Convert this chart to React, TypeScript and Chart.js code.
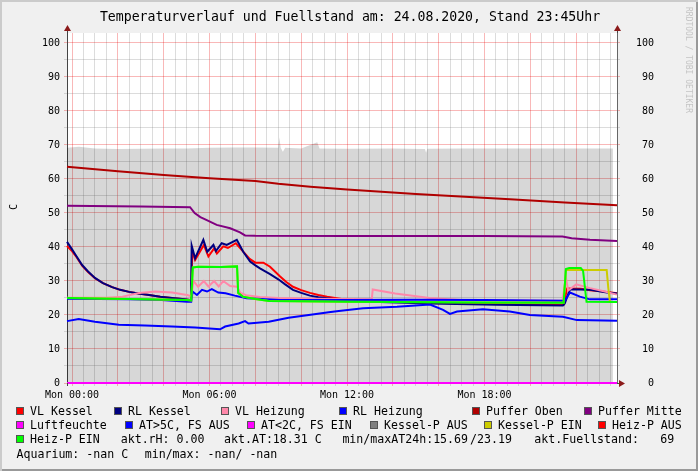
import React, { useEffect, useRef } from "react";
import { Chart, registerables } from "chart.js";

Chart.register(...registerables);

type P = [number, number];

const TITLE = "Temperaturverlauf und Fuellstand am: 24.08.2020, Stand 23:45Uhr";
const Y_TITLE = "C";
const WATERMARK = "RRDTOOL / TOBI OETIKER";

const X_MIN = -0.22;
const X_MAX = 23.78;
const Y_MIN = 0;
const Y_MAX = 102.94;

const xGridHours: number[] = Array.from({ length: 48 }, (_, i) => i * 0.5);
const xLabelHours = [0, 6, 12, 18];
const xTickLabels = ["Mon 00:00", "Mon 06:00", "Mon 12:00", "Mon 18:00"];
const yGridValues: number[] = Array.from({ length: 21 }, (_, i) => i * 5);
const yTickLabels = ["0", "10", "20", "30", "40", "50", "60", "70", "80", "90", "100"];

// [hour, value]
const fuellstand: P[] = [
  [-0.22, 69.2], [0.3, 69.5], [1.0, 69.0], [2.0, 68.8], [3.0, 68.9], [4.0, 69.0], [5.0, 69.0],
  [6.0, 69.2], [7.0, 69.3], [8.0, 69.3], [9.0, 69.2], [9.05, 72.3], [9.1, 69.3], [9.2, 68.0],
  [9.3, 69.2], [10.0, 69.0], [10.7, 70.8], [10.8, 69.0], [12.0, 68.9], [14.0, 69.0],
  [15.4, 68.8], [15.45, 67.7], [15.5, 68.9], [17.0, 69.0], [20.0, 69.0], [23.6, 69.0],
];

const vlKessel: P[] = [
  [-0.22, 40.3], [0.0, 38.8], [0.2, 37.0], [0.44, 34.5], [0.7, 32.6], [1.0, 30.8], [1.35, 29.4],
  [1.75, 28.2], [2.1, 27.4], [2.49, 26.8], [2.9, 26.3], [3.36, 25.9], [3.85, 25.4], [4.36, 25.0],
  [4.8, 24.7], [5.15, 24.4], [5.19, 24.3], [5.25, 39.0], [5.37, 36.2], [5.75, 40.6], [5.95, 37.2],
  [6.2, 39.6], [6.32, 38.1], [6.6, 40.2], [6.8, 39.7], [7.15, 41.1], [7.45, 38.8], [7.75, 36.5],
  [8.0, 35.4], [8.35, 35.4], [8.64, 34.2], [9.08, 31.3], [9.35, 29.7], [9.64, 28.3], [10.0, 27.3],
  [10.38, 26.5], [10.75, 25.9], [11.13, 25.4], [11.82, 24.6], [12.7, 24.2], [15.6, 23.6],
  [18.5, 23.2], [21.45, 23.0], [21.6, 27.8], [22.2, 27.7], [22.6, 27.3], [23.34, 26.8],
  [23.78, 26.4],
];

const rlKessel: P[] = [
  [-0.22, 41.5], [0.0, 39.3], [0.2, 37.2], [0.44, 34.7], [0.7, 32.8], [1.0, 30.9], [1.35, 29.4],
  [1.75, 28.2], [2.1, 27.4], [2.49, 26.8], [2.9, 26.3], [3.36, 25.9], [3.85, 25.4], [4.36, 25.0],
  [4.8, 24.7], [5.15, 24.4], [5.19, 24.3], [5.22, 40.4], [5.37, 36.7], [5.73, 42.1], [5.9, 38.6],
  [6.17, 40.6], [6.28, 38.8], [6.53, 41.1], [6.75, 40.6], [7.19, 42.1], [7.47, 38.6], [7.77, 35.7],
  [8.0, 34.6], [8.2, 33.7], [8.64, 32.0], [9.0, 30.5], [9.3, 29.0], [9.64, 27.4], [10.0, 26.5],
  [10.38, 25.7], [10.75, 25.2], [11.13, 24.9], [11.8, 24.4], [12.7, 24.0], [15.6, 23.4],
  [18.5, 23.0], [21.42, 22.8], [21.5, 23.4], [21.73, 27.6], [22.6, 27.4], [23.34, 26.6],
  [23.78, 26.3],
];

const vlHeizung: P[] = [
  [-0.22, 25.1], [1.5, 25.1], [2.2, 25.4], [2.93, 26.5], [3.63, 26.9], [4.36, 26.6], [5.02, 25.9],
  [5.2, 25.5], [5.3, 30.0], [5.5, 28.3], [5.75, 30.0], [5.95, 28.4], [6.2, 30.0], [6.4, 28.4],
  [6.6, 30.0], [6.9, 28.5], [7.2, 28.3], [7.35, 26.5], [7.6, 25.8], [8.2, 25.3], [9.0, 25.0],
  [10.5, 24.8], [13.08, 24.6], [13.12, 27.5], [14.1, 26.3], [15.6, 25.0], [17.0, 24.4],
  [19.0, 24.3], [21.4, 24.2], [21.55, 30.9], [21.65, 27.2], [22.0, 29.0], [22.6, 27.9],
  [23.2, 27.0], [23.78, 26.0],
];

const rlHeizung: P[] = [
  [-0.22, 24.8], [2.5, 24.6], [3.9, 24.4], [5.02, 23.9], [5.2, 23.9], [5.26, 26.9], [5.45, 25.9],
  [5.67, 27.4], [5.89, 26.9], [6.1, 27.6], [6.38, 26.6], [6.7, 26.4], [7.1, 25.7], [7.62, 24.9],
  [9.08, 24.4], [12.0, 24.4], [15.0, 24.5], [18.0, 24.4], [21.5, 24.2], [21.73, 26.6],
  [22.16, 25.4], [22.6, 24.6], [23.78, 24.6],
];

const pufferOben: P[] = [
  [-0.22, 63.6], [2.0, 62.3], [4.0, 61.2], [6.0, 60.2], [8.0, 59.4], [9.0, 58.6], [10.4, 57.7],
  [12.0, 56.9], [15.0, 55.6], [19.3, 54.0], [21.5, 53.1], [23.78, 52.3],
];

const pufferMitte: P[] = [
  [-0.22, 52.1], [3.0, 51.9], [5.15, 51.7], [5.35, 50.0], [5.6, 48.8], [5.88, 47.9], [6.31, 46.5],
  [6.9, 45.5], [7.33, 44.3], [7.55, 43.4], [8.0, 43.3], [12.0, 43.2], [18.0, 43.2], [21.4, 43.1],
  [21.8, 42.6], [22.6, 42.1], [23.78, 41.8],
];

const luftfeuchte: P[] = [[-0.22, 0], [23.78, 0]];

const aussen: P[] = [
  [-0.22, 18.2], [0.29, 18.8], [1.0, 18.0], [2.04, 17.1], [3.18, 16.9], [4.36, 16.6], [5.37, 16.3],
  [6.46, 15.8], [6.68, 16.6], [7.27, 17.5], [7.55, 18.2], [7.7, 17.5], [8.58, 18.0], [9.45, 19.2],
  [10.33, 20.0], [11.2, 20.8], [11.64, 21.2], [12.7, 22.0], [14.18, 22.4], [15.62, 23.1],
  [16.19, 21.5], [16.49, 20.3], [16.8, 21.0], [17.93, 21.7], [19.1, 21.0], [19.98, 20.0],
  [21.42, 19.5], [22.03, 18.5], [23.78, 18.3],
];

const kesselPEin: P[] = [
  [-0.22, 25.0], [2.5, 24.7], [5.0, 24.4], [5.2, 24.3], [5.27, 34.0], [5.5, 34.2], [6.5, 34.1],
  [7.2, 34.3], [7.25, 26.5], [7.45, 25.4], [8.0, 24.7], [8.6, 24.1], [12.0, 23.9], [18.0, 23.7],
  [21.45, 23.6], [21.55, 33.2], [23.33, 33.2], [23.4, 28.0], [23.47, 23.9], [23.78, 23.8],
];

const heizPEin: P[] = [
  [-0.22, 25.0], [2.5, 24.7], [5.0, 24.4], [5.2, 24.3], [5.27, 34.0], [5.5, 34.2], [6.5, 34.1],
  [7.2, 34.3], [7.25, 26.5], [7.45, 25.4], [8.0, 24.7], [8.6, 24.1], [12.0, 23.9], [18.0, 23.7],
  [21.45, 23.6], [21.55, 33.5], [21.7, 33.8], [22.2, 33.8], [22.3, 33.0], [22.45, 23.9],
  [23.78, 23.8],
];

const legendNames = [
  "VL Kessel", "RL Kessel", "VL Heizung", "RL Heizung", "Puffer Oben", "Puffer Mitte",
  "Luftfeuchte", "AT>5C, FS AUS", "AT<2C, FS EIN", "Kessel-P AUS", "Kessel-P EIN", "Heiz-P AUS",
  "Heiz-P EIN",
];
const legendColors = [
  "#FF0000", "#000080", "#FF88AA", "#0000FF", "#B00000", "#800080",
  "#FF00FF", "#0000FF", "#FF00FF", "#808080", "#CCCC00", "#FF0000",
  "#00FF00",
];
const infoTexts = [
  "akt.rH: 0.00", "akt.AT:18.31 C", "min/maxAT24h:15.69", "/23.19", "akt.Fuellstand:", "69",
];
const aquariumTexts = ["Aquarium: -nan C", "min/max: -nan/ -nan"];

const MONO = "'DejaVu Sans Mono', monospace";

// layout (pixel positions of legend entries)
const legendLayout: { idx: number; x: number; row: number }[] = [
  { idx: 0, x: 16, row: 0 }, { idx: 1, x: 114, row: 0 }, { idx: 2, x: 221, row: 0 },
  { idx: 3, x: 339, row: 0 }, { idx: 4, x: 472, row: 0 }, { idx: 5, x: 584, row: 0 },
  { idx: 6, x: 16, row: 1 }, { idx: 7, x: 125, row: 1 }, { idx: 8, x: 247, row: 1 },
  { idx: 9, x: 370, row: 1 }, { idx: 10, x: 484, row: 1 }, { idx: 11, x: 598, row: 1 },
  { idx: 12, x: 16, row: 2 },
];
const infoX = [120.7, 224, 342.4, 470, 534.3, 660.3];
const aquaX = [16.5, 144.7];
const rowTop = [404.3, 418.3, 432, 446.6];

const isMult = (v: number, m: number) => Math.abs(v / m - Math.round(v / m)) < 1e-6;

const MAJOR = "rgba(235,0,0,0.28)";
const MINOR = "rgba(130,130,130,0.28)";

export default function App() {
  const ref = useRef<HTMLCanvasElement>(null);

  useEffect(() => {
    document.body.style.margin = "0";
    const canvas = ref.current;
    if (!canvas) return;
    const toXY = (a: P[]) => a.map(([x, y]) => ({ x, y }));
    const line = (label: string, data: P[], color: string, order: number) => ({
      label,
      data: toXY(data),
      borderColor: color,
      backgroundColor: color,
      borderWidth: 2,
      pointRadius: 0,
      tension: 0,
      fill: false,
      order,
      clip: 4,
    });

    const datasets: any[] = [
      {
        label: "Fuellstand",
        data: toXY(fuellstand),
        borderWidth: 0,
        borderColor: "rgba(0,0,0,0)",
        backgroundColor: "rgba(0,0,0,0.155)",
        pointRadius: 0,
        tension: 0,
        fill: "origin",
        order: 100,
      },
      line(legendNames[0], vlKessel, legendColors[0], 50),
      line(legendNames[1], rlKessel, legendColors[1], 49),
      line(legendNames[2], vlHeizung, legendColors[2], 48),
      line(legendNames[3], rlHeizung, legendColors[3], 47),
      line(legendNames[4], pufferOben, legendColors[4], 46),
      line(legendNames[5], pufferMitte, legendColors[5], 45),
      line(legendNames[6], luftfeuchte, legendColors[6], 44),
      line(legendNames[7], aussen, legendColors[7], 43),
      line(legendNames[10], kesselPEin, legendColors[10], 40),
      line(legendNames[12], heizPEin, legendColors[12], 38),
    ];

    const bgPlugin = {
      id: "bg",
      beforeDraw(chart: any) {
        const { ctx, chartArea: a } = chart;
        ctx.save();
        ctx.fillStyle = "#ffffff";
        ctx.fillRect(a.left, a.top, a.right - a.left, a.bottom - a.top);
        ctx.restore();
      },
    };

    const arrowPlugin = {
      id: "arrows",
      afterDraw(chart: any) {
        const { ctx, chartArea: a } = chart;
        ctx.save();
        ctx.strokeStyle = "#444444";
        ctx.lineWidth = 1;
        ctx.beginPath();
        ctx.moveTo(a.left + 0.5, a.top);
        ctx.lineTo(a.left + 0.5, a.top - 3);
        ctx.moveTo(a.right + 0.5, a.top);
        ctx.lineTo(a.right + 0.5, a.top - 3);
        ctx.moveTo(a.right, a.bottom + 0.5);
        ctx.lineTo(a.right + 3, a.bottom + 0.5);
        ctx.moveTo(a.left + 0.5, a.bottom);
        ctx.lineTo(a.left + 0.5, a.bottom + 3);
        ctx.stroke();
        ctx.fillStyle = "#8B1A1A";
        const up = (x: number) => {
          ctx.beginPath();
          ctx.moveTo(x - 3, a.top - 2);
          ctx.lineTo(x + 4, a.top - 2);
          ctx.lineTo(x + 0.5, a.top - 8);
          ctx.closePath();
          ctx.fill();
        };
        up(a.left);
        up(a.right);
        ctx.beginPath();
        ctx.moveTo(a.right + 2, a.bottom - 3);
        ctx.lineTo(a.right + 2, a.bottom + 4);
        ctx.lineTo(a.right + 8, a.bottom + 0.5);
        ctx.closePath();
        ctx.fill();
        ctx.restore();
      },
    };

    const tickFont = { family: "'DejaVu Sans Mono'", size: 10 };
    const yTicks = (scale: any) => {
      scale.ticks = yGridValues.map((v) => ({ value: v }));
    };
    const yLabel = (v: any) => {
      const n = Number(v);
      return isMult(n, 10) ? yTickLabels[Math.round(n / 10)] : "";
    };
    const yColor = (ctx: any) => (ctx.tick && isMult(ctx.tick.value, 10) ? MAJOR : MINOR);

    const chart = new Chart(canvas, {
      type: "line",
      data: { datasets },
      options: {
        responsive: false,
        animation: false,
        events: [],
        layout: { padding: { left: 0, right: 44, top: 33, bottom: 68 } },
        plugins: {
          legend: { display: false },
          tooltip: { enabled: false },
          title: { display: false },
        },
        scales: {
          x: {
            type: "linear",
            position: "bottom",
            bounds: "data",
            min: X_MIN,
            max: X_MAX,
            afterBuildTicks: (scale: any) => {
              scale.ticks = xGridHours.map((v) => ({ value: v }));
            },
            afterFit: (scale: any) => {
              scale.height = 20;
            },
            grid: {
              color: (ctx: any) => (ctx.tick && isMult(ctx.tick.value, 2) ? MAJOR : MINOR),
              tickLength: 3,
            },
            border: { color: "#444444", width: 1 },
            ticks: {
              autoSkip: false,
              maxRotation: 0,
              minRotation: 0,
              padding: 3,
              color: "#000000",
              font: tickFont,
              callback: (v: any) => {
                const i = xLabelHours.findIndex((h) => Math.abs(h - Number(v)) < 1e-6);
                return i >= 0 ? xTickLabels[i] : "";
              },
            },
          },
          y: {
            type: "linear",
            position: "left",
            bounds: "data",
            min: Y_MIN,
            max: Y_MAX,
            afterBuildTicks: yTicks,
            afterFit: (scale: any) => {
              scale.width = 67;
            },
            grid: { color: yColor, tickLength: 3 },
            border: { color: "#444444", width: 1 },
            ticks: { padding: 4, color: "#000000", font: tickFont, callback: yLabel },
          },
          y2: {
            type: "linear",
            position: "right",
            bounds: "data",
            min: Y_MIN,
            max: Y_MAX,
            afterBuildTicks: yTicks,
            afterFit: (scale: any) => {
              scale.width = 37;
            },
            grid: { color: yColor, tickLength: 3, drawOnChartArea: false },
            border: { color: "#666666", width: 1 },
            ticks: {
              padding: 4,
              crossAlign: "far",
              color: "#000000",
              font: tickFont,
              callback: yLabel,
            },
          },
        },
      } as any,
      plugins: [bgPlugin, arrowPlugin],
    });
    return () => chart.destroy();
  }, []);

  const textStyle: React.CSSProperties = {
    position: "absolute",
    fontFamily: MONO,
    fontSize: "11.6px",
    lineHeight: "14px",
    whiteSpace: "pre",
    color: "#000",
  };

  return (
    <div
      style={{
        position: "relative",
        width: 698,
        height: 471,
        background: "#F0F0F0",
        boxShadow: "inset 2px 2px 0 #CBCBCB, inset -2px -2px 0 #999999",
        overflow: "hidden",
      }}
    >
      <canvas
        ref={ref}
        width={698}
        height={471}
        style={{ position: "absolute", left: 0, top: 0, width: 698, height: 471, display: "block" }}
      />
      <div
        style={{
          position: "absolute",
          left: 0,
          width: 700,
          top: 9,
          textAlign: "center",
          fontFamily: MONO,
          fontSize: "13.2px",
          lineHeight: "16px",
          whiteSpace: "pre",
          color: "#000",
        }}
      >
        {TITLE}
      </div>
      <div
        style={{
          position: "absolute",
          left: 14,
          top: 207,
          transform: "translate(-50%, -50%) rotate(-90deg)",
          fontFamily: MONO,
          fontSize: "10px",
          lineHeight: "12px",
          color: "#000",
        }}
      >
        {Y_TITLE}
      </div>
      <div
        style={{
          position: "absolute",
          left: 684,
          top: 7,
          writingMode: "vertical-rl",
          fontFamily: MONO,
          fontSize: "8px",
          lineHeight: "9px",
          color: "#C4C4C4",
          whiteSpace: "pre",
        }}
      >
        {WATERMARK}
      </div>
      {legendLayout.map((it) => (
        <React.Fragment key={"lg" + it.idx}>
          <div
            style={{
              position: "absolute",
              left: it.x,
              top: rowTop[it.row] + 3,
              width: 8,
              height: 8,
              boxSizing: "border-box",
              border: "1px solid #555",
              background: legendColors[it.idx],
            }}
          />
          <div style={{ ...textStyle, left: it.x + 14, top: rowTop[it.row] }}>{legendNames[it.idx]}</div>
        </React.Fragment>
      ))}
      {infoTexts.map((t, i) => (
        <div key={"info" + i} style={{ ...textStyle, left: infoX[i], top: rowTop[2] }}>
          {t}
        </div>
      ))}
      {aquariumTexts.map((t, i) => (
        <div key={"aq" + i} style={{ ...textStyle, left: aquaX[i], top: rowTop[3] }}>
          {t}
        </div>
      ))}
    </div>
  );
}
